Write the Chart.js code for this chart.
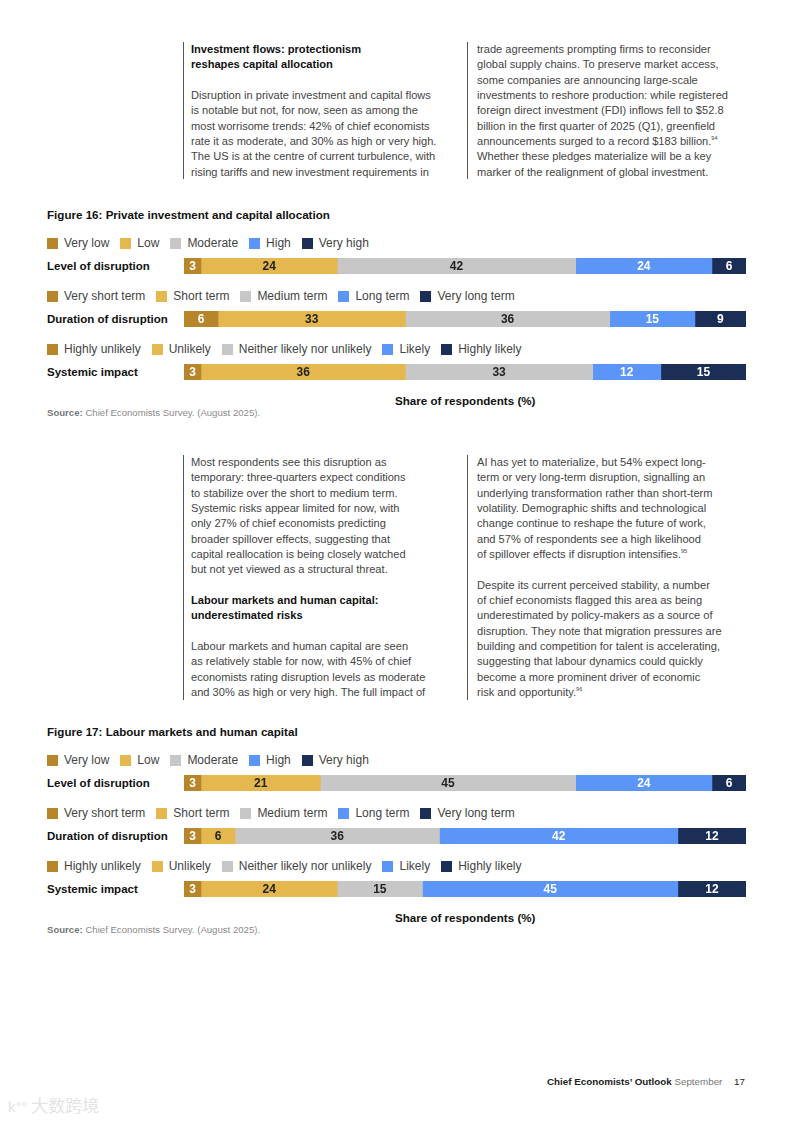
<html>
  <head>
    <meta charset="utf-8" />
    <title>Chief Economists' Outlook - page 17</title>
    <style>
      body {
        margin: 0;
        padding: 0;
        background-color: #ffffff;
        font-family: "Liberation Sans", Arial, sans-serif;
      }

      #page {
        position: relative;
        width: 793px;
        height: 1121px;
        overflow: hidden;
        color: #3b3b3b;
      }

      .abs {
        position: absolute;
        white-space: nowrap;
      }

      .col {
        position: absolute;
        font-size: 11.1px;
        line-height: 15.35px;
        white-space: nowrap;
        color: #444;
      }

      .col b {
        color: #111;
      }

      .col sup {
        font-size: 5.5px;
        vertical-align: 5px;
        line-height: 0;
      }

      .rule {
        position: absolute;
        width: 1px;
        background-color: #555;
      }

      .figtitle {
        font-size: 11.6px;
        font-weight: bold;
        color: #111;
        line-height: 15px;
      }

      .legend {
        display: flex;
        align-items: center;
        font-size: 12px;
        line-height: 15px;
        color: #444;
      }

      .legend span.sw {
        display: inline-block;
        width: 11px;
        height: 11px;
        margin-right: 6px;
      }

      .legend span.item {
        display: inline-flex;
        align-items: center;
        margin-right: 11px;
      }

      .rowname {
        font-size: 11.5px;
        font-weight: bold;
        color: #111;
        line-height: 16px;
      }

      .axistitle {
        font-size: 11.6px;
        font-weight: bold;
        color: #111;
        line-height: 15px;
      }

      .source {
        font-size: 9.6px;
        color: #8a8a8a;
        line-height: 10px;
      }

      .source b {
        color: #777;
      }
    </style>
    <script src="https://cdn.jsdelivr.net/npm/chart.js"></script>
  </head>
  <body>
    <div id="page">
      <!-- top text block -->
      <div class="rule" style="left:183px; top:42px; height:137px;"></div>
      <div class="rule" style="left:467px; top:42px; height:137px;"></div>
      <div class="col" style="left:191px; top:42px;">
        <b>Investment flows: protectionism</b><br>
        <b>reshapes capital allocation</b><br>
        <br>
        Disruption in private investment and capital flows<br>
        is notable but not, for now, seen as among the<br>
        most worrisome trends: 42% of chief economists<br>
        rate it as moderate, and 30% as high or very high.<br>
        The US is at the centre of current turbulence, with<br>
        rising tariffs and new investment requirements in
      </div>
      <div class="col" style="left:477px; top:42px;">
        trade agreements prompting firms to reconsider<br>
        global supply chains. To preserve market access,<br>
        some companies are announcing large-scale<br>
        investments to reshore production: while registered<br>
        foreign direct investment (FDI) inflows fell to $52.8<br>
        billion in the first quarter of 2025 (Q1), greenfield<br>
        announcements surged to a record $183 billion.<sup>94</sup><br>
        Whether these pledges materialize will be a key<br>
        marker of the realignment of global investment.
      </div>

      <!-- figure 16 -->
      <div id="fig16"></div>

      <!-- middle text block -->
      <div class="rule" style="left:183px; top:455px; height:245px;"></div>
      <div class="rule" style="left:467px; top:455px; height:245px;"></div>
      <div class="col" style="left:191px; top:455px;">
        Most respondents see this disruption as<br>
        temporary: three-quarters expect conditions<br>
        to stabilize over the short to medium term.<br>
        Systemic risks appear limited for now, with<br>
        only 27% of chief economists predicting<br>
        broader spillover effects, suggesting that<br>
        capital reallocation is being closely watched<br>
        but not yet viewed as a structural threat.<br>
        <br>
        <b>Labour markets and human capital:</b><br>
        <b>underestimated risks</b><br>
        <br>
        Labour markets and human capital are seen<br>
        as relatively stable for now, with 45% of chief<br>
        economists rating disruption levels as moderate<br>
        and 30% as high or very high. The full impact of
      </div>
      <div class="col" style="left:477px; top:455px;">
        AI has yet to materialize, but 54% expect long-<br>
        term or very long-term disruption, signalling an<br>
        underlying transformation rather than short-term<br>
        volatility. Demographic shifts and technological<br>
        change continue to reshape the future of work,<br>
        and 57% of respondents see a high likelihood<br>
        of spillover effects if disruption intensifies.<sup>95</sup><br>
        <br>
        Despite its current perceived stability, a number<br>
        of chief economists flagged this area as being<br>
        underestimated by policy-makers as a source of<br>
        disruption. They note that migration pressures are<br>
        building and competition for talent is accelerating,<br>
        suggesting that labour dynamics could quickly<br>
        become a more prominent driver of economic<br>
        risk and opportunity.<sup>96</sup>
      </div>

      <!-- figure 17 -->
      <div id="fig17"></div>

      <!-- footer -->
      <div class="abs" style="right:48px; top:1076px; font-size:9.8px; line-height:12px; color:#222;">
        <span style="font-weight:bold;">Chief Economists’ Outlook</span>
        <span style="color:#777;">September</span>
        <span style="margin-left:9px;">17</span>
      </div>
      <div class="abs" style="left:8px; top:1094px; font-size:17px; line-height:22px; color:#e4e4e4; font-family:'Noto Sans CJK SC', sans-serif;">
        <span style="font-family:'Liberation Sans'; font-size:15px;">k°°</span> 大数跨境
      </div>
    </div>

    <script>
      // shared categories
      const levelLabels = ["Very low", "Low", "Moderate", "High", "Very high"];
      const durationLabels = ["Very short term", "Short term", "Medium term", "Long term", "Very long term"];
      const impactLabels = ["Highly unlikely", "Unlikely", "Neither likely nor unlikely", "Likely", "Highly likely"];
      const rowNames = ["Level of disruption", "Duration of disruption", "Systemic impact"];

      // Figure 16: Private investment and capital allocation
      const fig16Level = [3, 24, 42, 24, 6];
      const fig16Duration = [6, 33, 36, 15, 9];
      const fig16Impact = [3, 36, 33, 12, 15];

      // Figure 17: Labour markets and human capital
      const fig17Level = [3, 21, 45, 24, 6];
      const fig17Duration = [3, 6, 36, 42, 12];
      const fig17Impact = [3, 24, 15, 45, 12];

      const segColors = ["#b8862a", "#e5b84f", "#c7c7c7", "#5b95f8", "#1b2e55"];
      const valueColors = ["#ffffff", "#222222", "#222222", "#ffffff", "#ffffff"];
      const scaleMax = 99;

      const segLabels = {
        id: "segLabels",
        afterDatasetsDraw(chart) {
          const ctx = chart.ctx;
          chart.data.datasets.forEach((ds, i) => {
            const meta = chart.getDatasetMeta(i);
            meta.data.forEach((bar, j) => {
              const v = ds.data[j];
              if (!v) return;
              ctx.save();
              ctx.fillStyle = valueColors[i];
              ctx.font = "bold 12px 'Liberation Sans', Arial, sans-serif";
              ctx.textAlign = "center";
              ctx.textBaseline = "middle";
              ctx.fillText(String(v), (bar.x + bar.base) / 2, bar.y + 0.5);
              ctx.restore();
            });
          });
        },
      };

      function drawBar(holder, values, top) {
        const canvas = document.createElement("canvas");
        canvas.width = 562;
        canvas.height = 16;
        canvas.style.position = "absolute";
        canvas.style.left = "184px";
        canvas.style.top = top + "px";
        canvas.style.width = "562px";
        canvas.style.height = "16px";
        holder.appendChild(canvas);

        new Chart(canvas.getContext("2d"), {
          type: "bar",
          data: {
            labels: [""],
            datasets: values.map((v, i) => ({
              data: [v],
              backgroundColor: segColors[i],
              borderWidth: 0,
              barPercentage: 1,
              categoryPercentage: 1,
            })),
          },
          options: {
            indexAxis: "y",
            responsive: false,
            animation: false,
            layout: { padding: 0 },
            plugins: { legend: { display: false }, tooltip: { enabled: false } },
            scales: {
              x: { stacked: true, min: 0, max: scaleMax, display: false },
              y: { stacked: true, display: false },
            },
          },
          plugins: [segLabels],
        });
      }

      function addDiv(holder, cls, text, left, top) {
        const d = document.createElement("div");
        d.className = "abs " + cls;
        d.style.left = left + "px";
        d.style.top = top + "px";
        d.innerHTML = text;
        holder.appendChild(d);
        return d;
      }

      function addLegend(holder, labels, top) {
        const d = addDiv(holder, "legend", "", 47, top);
        labels.forEach((lab, i) => {
          const item = document.createElement("span");
          item.className = "item";
          item.innerHTML = '<span class="sw" style="background:' + segColors[i] + '"></span>' + lab;
          d.appendChild(item);
        });
      }

      function buildFigure(id, title, rows, top) {
        const holder = document.getElementById(id);
        addDiv(holder, "figtitle", title, 47, top);
        rows.forEach((r, k) => {
          const y = top + k * 53;
          addLegend(holder, r.labels, y + 29);
          addDiv(holder, "rowname", rowNames[k], 47, y + 51);
          drawBar(holder, r.values, y + 51);
        });
        addDiv(holder, "axistitle", "Share of respondents (%)", 395, top + 186);
        addDiv(holder, "source", "<b>Source:</b> Chief Economists Survey. (August 2025).", 47, top + 201);
      }

      buildFigure("fig16", "Figure 16: Private investment and capital allocation", [
        { labels: levelLabels, values: fig16Level },
        { labels: durationLabels, values: fig16Duration },
        { labels: impactLabels, values: fig16Impact },
      ], 207);

      buildFigure("fig17", "Figure 17: Labour markets and human capital", [
        { labels: levelLabels, values: fig17Level },
        { labels: durationLabels, values: fig17Duration },
        { labels: impactLabels, values: fig17Impact },
      ], 724);
    </script>
  </body>
</html>
